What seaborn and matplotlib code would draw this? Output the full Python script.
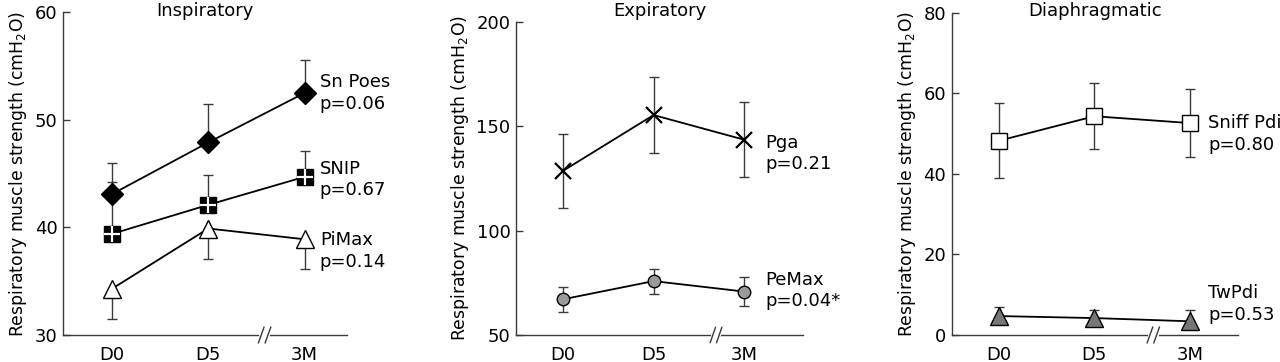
# Respiratory muscle strength at D0, D5 and 3M (three panels)

import numpy as np
import pandas as pd
import seaborn as sns
import matplotlib.pyplot as plt
import matplotlib.transforms as mtransforms

# Data (mean and one-sided / two-sided error, cmH2O)
timepoints = ['D0', 'D5', '3M']

sn_poes = [43.1, 47.9, 52.5]
sn_poes_err = [2.9, 3.6, 3.1]
snip = [39.4, 42.1, 44.7]
snip_err = [4.8, 2.8, 2.4]
pimax = [34.3, 39.9, 38.9]
pimax_err = [2.8, 2.8, 2.8]

pga = [128.6, 155.3, 143.5]
pga_err = [17.7, 18.2, 18.0]
pemax = [67.1, 75.8, 70.8]
pemax_err = [6.0, 6.0, 7.0]

sniff_pdi = [48.2, 54.3, 52.6]
sniff_pdi_err = [9.3, 8.2, 8.4]
twpdi = [4.7, 4.2, 3.4]
twpdi_err = [2.3, 2.0, 2.8]

sns.set_style('ticks')
plt.rcParams['font.family'] = ['DejaVu Sans']
plt.rcParams['mathtext.fontset'] = 'dejavusans'
plt.rcParams['text.color'] = 'black'
plt.rcParams['axes.labelcolor'] = 'black'
plt.rcParams['xtick.labelcolor'] = 'black'
plt.rcParams['ytick.labelcolor'] = 'black'

FS = 13
INK = '#3a3a3a'

fig = plt.figure(figsize=(12.8, 3.62), dpi=100)
x = np.arange(len(timepoints))


def draw_series(ax, vals, err, side, marker, ms, face, lab, p, dx, dy, mew=1.0):
    df = pd.DataFrame({'t': x, 'v': vals})
    err = np.array(err)
    zero = np.zeros_like(err)
    if side == 'up':
        yerr = [zero, err]
    elif side == 'down':
        yerr = [err, zero]
    else:
        yerr = [err, err]
    ax.errorbar(x, vals, yerr=yerr, fmt='none', ecolor=INK, elinewidth=1.0,
                capsize=3.8, capthick=1.0, zorder=2)
    sns.lineplot(data=df, x='t', y='v', ax=ax, color='black', linewidth=1.3,
                 marker=marker, markersize=ms, markerfacecolor=face,
                 markeredgecolor='black', markeredgewidth=mew, zorder=3)
    ax.annotate(lab + '\np=' + p, xy=(x[-1], vals[-1]), xytext=(dx, dy),
                textcoords='offset points', ha='left', va='center',
                fontsize=FS, linespacing=1.25, annotation_clip=False)


def style_axes(ax, ylim, yticks, xlim, brk, title):
    ax.set_xlim(*xlim)
    ax.set_ylim(*ylim)
    ax.set_yticks(yticks)
    ax.set_xticks(x)
    ax.set_xticklabels(timepoints)
    ax.set_xlabel('')
    ax.set_ylabel('Respiratory muscle strength (cmH$_2$O)', fontsize=12.4)
    ax.tick_params(axis='y', direction='in', length=5, width=1, color=INK,
                   labelsize=FS, pad=4)
    ax.tick_params(axis='x', length=0, labelsize=FS, pad=8)
    for s in ['top', 'right']:
        ax.spines[s].set_visible(False)
    for s in ['left', 'bottom']:
        ax.spines[s].set_color(INK)
        ax.spines[s].set_linewidth(1.0)
    # axis break on the time axis
    tr = mtransforms.blended_transform_factory(ax.transData, ax.transAxes)
    ax.plot([brk - 0.035, brk + 0.035], [0, 0], color='white', lw=3,
            transform=tr, clip_on=False, zorder=5)
    for off in (-0.035, 0.035):
        ax.plot([brk + off - 0.03, brk + off + 0.03], [-0.025, 0.025],
                color=INK, lw=1.0, transform=tr, clip_on=False, zorder=6)
    ttr = mtransforms.blended_transform_factory(ax.transAxes, fig.transFigure)
    ax.text(0.5, 1 - 16 / 362, title, transform=ttr, ha='center',
            va='baseline', fontsize=FS)


# Inspiratory
ax1 = fig.add_axes([0.0492, 0.0746, 0.2218, 0.8914])
draw_series(ax1, sn_poes, sn_poes_err, 'up', 'D', 11, 'black', 'Sn Poes', '0.06', 11, 0)
draw_series(ax1, snip, snip_err, 'up', 's', 12, 'black', 'SNIP', '0.67', 11, -2)
ax1.plot(x, snip, linestyle='none', marker='+', markersize=12,
         markeredgecolor='white', markeredgewidth=1.6, zorder=4)
draw_series(ax1, pimax, pimax_err, 'down', '^', 13, 'white', 'PiMax', '0.14', 11, -8.5)
style_axes(ax1, (30, 60), [30, 40, 50, 60], (-0.51, 2.44), 1.585, 'Inspiratory')

# Expiratory
ax2 = fig.add_axes([0.4031, 0.0746, 0.2242, 0.8655])
draw_series(ax2, pga, pga_err, 'both', 'x', 11, 'black', 'Pga', '0.21', 15, -10, mew=1.6)
draw_series(ax2, pemax, pemax_err, 'both', 'o', 9, '#9a9a9a', 'PeMax', '0.04*', 15, 0.7)
style_axes(ax2, (50, 200), [50, 100, 150, 200], (-0.52, 2.65), 1.69, 'Expiratory')

# Diaphragmatic
ax3 = fig.add_axes([0.7435, 0.0746, 0.2237, 0.8903])
draw_series(ax3, sniff_pdi, sniff_pdi_err, 'both', 's', 12, 'white', 'Sniff Pdi', '0.80', 13, -7.7)
draw_series(ax3, twpdi, twpdi_err, 'up', '^', 13, '#777777', 'TwPdi', '0.53', 13, 12.6)
style_axes(ax3, (0, 80), [0, 20, 40, 60, 80], (-0.49, 2.5), 1.615, 'Diaphragmatic')

plt.savefig('out.png', dpi=100)
